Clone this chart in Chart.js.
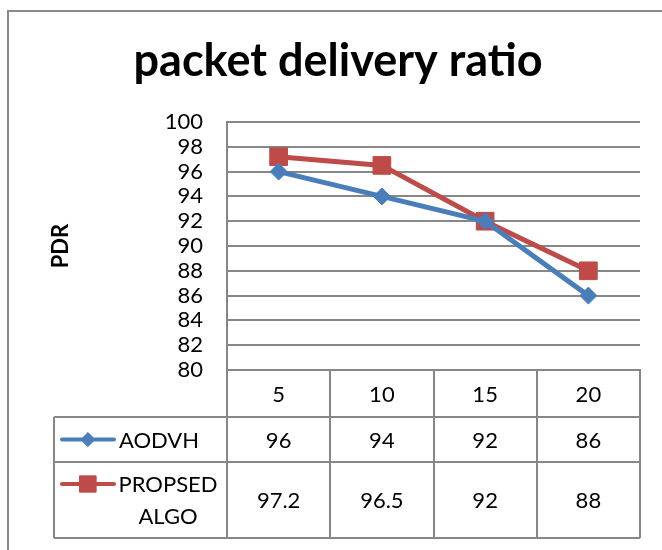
<!DOCTYPE html>
<html>
<head>
<meta charset="utf-8">
<title>packet delivery ratio</title>
<script src="https://cdn.jsdelivr.net/npm/chart.js@4/dist/chart.umd.min.js"></script>
<style>
  html, body { margin: 0; padding: 0; background: #fff; }
  #wrap { width: 662px; height: 550px; }
</style>
</head>
<body>
<div id="wrap"><canvas id="pdr" width="662" height="550"></canvas></div>
<script>
// chart values
const categories = ['5', '10', '15', '20'];
const aodvhValues = [96, 94, 92, 86];
const proposedValues = [97.2, 96.5, 92, 88];
const seriesNames = [['AODVH'], ['PROPSED', 'ALGO']];
const yMin = 80, yMax = 100, yStep = 2;

const gridColor = '#878787';
const blue = '#4a7ebb';
const red = '#be4b48';
const font = 'Lato, "Open Sans", sans-serif';

// table rows below the plot (y positions of the row lines)
const rowLines = [417, 462, 538];
const tableLeft = 54;

function marker(ctx, style, radius, color, x, y) {
    ctx.save();
    ctx.fillStyle = color;
    ctx.strokeStyle = color;
    ctx.lineWidth = 1;
    Chart.helpers.drawPoint(ctx, { pointStyle: style, radius: radius, rotation: 0, borderWidth: 1 }, x, y);
    ctx.restore();
}

const tablePlugin = {
    id: 'tablePlugin',
    beforeDraw(chart) {
        const ctx = chart.ctx;
        ctx.save();
        ctx.fillStyle = '#fff';
        ctx.fillRect(0, 0, chart.width, chart.height);
        // outer chart frame (right and bottom run off the picture)
        ctx.strokeStyle = '#8a8a8a';
        ctx.lineWidth = 2;
        ctx.strokeRect(8, 11, 800, 800);
        ctx.restore();
    },
    afterDraw(chart) {
        const ctx = chart.ctx;
        const area = chart.chartArea;
        const xs = chart.scales.x;
        const n = chart.data.labels.length;
        const colW = xs.getPixelForValue(1) - xs.getPixelForValue(0);

        ctx.save();
        // title
        ctx.fillStyle = '#000';
        ctx.textAlign = 'center';
        ctx.textBaseline = 'alphabetic';
        ctx.font = 'bold 45px ' + font;
        ctx.fillText('packet delivery ratio', 338, 76);

        // y axis title
        ctx.save();
        ctx.translate(68, 246);
        ctx.rotate(-Math.PI / 2);
        ctx.font = 'bold 22px ' + font;
        ctx.textBaseline = 'alphabetic';
        ctx.fillText('PDR', 0, 0);
        ctx.restore();

        // table grid
        ctx.strokeStyle = gridColor;
        ctx.lineWidth = 2;
        ctx.beginPath();
        for (let i = 0; i <= n; i++) {
            const ex = Math.round(xs.getPixelForValue(0) - colW / 2 + i * colW);
            ctx.moveTo(ex, area.bottom);
            ctx.lineTo(ex, rowLines[2]);
        }
        ctx.moveTo(tableLeft, rowLines[0]);
        ctx.lineTo(tableLeft, rowLines[2]);
        rowLines.forEach(r => {
            ctx.moveTo(tableLeft, r);
            ctx.lineTo(area.right, r);
        });
        ctx.stroke();

        // category row
        ctx.font = '22px ' + font;
        ctx.textBaseline = 'middle';
        chart.data.labels.forEach((lab, i) => {
            ctx.fillText(lab, xs.getPixelForValue(i), (area.bottom + rowLines[0]) / 2 + 1);
        });

        // series rows
        chart.data.datasets.forEach((ds, d) => {
            const top = rowLines[d], bot = rowLines[d + 1];
            const cy = (top + bot) / 2;
            ds.data.forEach((v, i) => {
                ctx.fillStyle = '#000';
                ctx.textAlign = 'center';
                ctx.fillText(String(v), xs.getPixelForValue(i), cy + 1);
            });
            // legend key
            const lines = seriesNames[d];
            const keyY = lines.length > 1 ? top + 22 : cy;
            ctx.strokeStyle = ds.borderColor;
            ctx.lineWidth = 4;
            ctx.lineCap = 'round';
            ctx.beginPath();
            ctx.moveTo(62, keyY);
            ctx.lineTo(114, keyY);
            ctx.stroke();
            marker(ctx, ds.pointStyle, d === 0 ? 7 : 11.5, ds.borderColor, 88, keyY);
            ctx.fillStyle = '#000';
            if (lines.length === 1) {
                ctx.textAlign = 'left';
                ctx.fillText(lines[0], 119, keyY + 1);
            } else {
                ctx.textAlign = 'center';
                ctx.fillText(lines[0], 168, keyY + 1);
                ctx.fillText(lines[1], 168, keyY + 33);
            }
        });
        ctx.restore();
    }
};

new Chart(document.getElementById('pdr'), {
    type: 'line',
    data: {
        labels: categories,
        datasets: [{
            label: seriesNames[0].join(' '),
            data: aodvhValues,
            borderColor: blue,
            backgroundColor: blue,
            borderWidth: 5,
            pointStyle: 'rectRot',
            pointRadius: 8.5,
            pointBorderWidth: 1,
            tension: 0
        }, {
            label: seriesNames[1].join(' '),
            data: proposedValues,
            borderColor: red,
            backgroundColor: red,
            borderWidth: 5,
            pointStyle: 'rect',
            pointRadius: 12.5,
            pointBorderWidth: 1,
            tension: 0
        }]
    },
    options: {
        responsive: false,
        devicePixelRatio: 1,
        animation: false,
        layout: { padding: { top: 122, right: 22, bottom: 0, left: 0 } },
        plugins: {
            legend: { display: false },
            title: { display: false },
            tooltip: { enabled: false }
        },
        scales: {
            x: {
                offset: true,
                grid: { display: false },
                border: { display: true, color: gridColor, width: 2 },
                ticks: { display: false },
                afterFit(s) { s.height = 180; }
            },
            y: {
                min: yMin,
                max: yMax,
                ticks: {
                    stepSize: yStep,
                    autoSkip: false,
                    color: '#000',
                    padding: 24,
                    font: { family: font, size: 22 }
                },
                grid: { color: gridColor, lineWidth: 2, drawTicks: false },
                border: { display: true, color: gridColor, width: 2 },
                afterFit(s) { s.width = 227; }
            }
        }
    },
    plugins: [tablePlugin]
});
</script>
</body>
</html>
